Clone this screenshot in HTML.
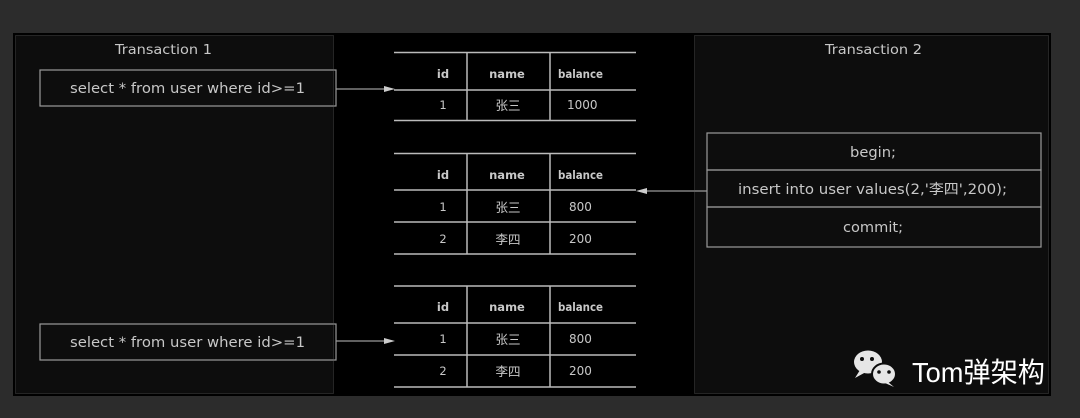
<!DOCTYPE html>
<html><head><meta charset="utf-8"><style>
html,body{margin:0;padding:0;background:#2c2c2c;}
svg{display:block;}
text{font-family:"DejaVu Sans","Noto Sans CJK SC",sans-serif;fill:#c8c8c8;}
</style></head><body>
<svg width="1080" height="418" viewBox="0 0 1080 418" xmlns="http://www.w3.org/2000/svg">
<rect width="1080" height="418" fill="#2c2c2c"/>
<rect x="13" y="33" width="1038" height="363" fill="#000"/>
<rect x="15.5" y="35.5" width="318" height="358" fill="#0d0d0d" stroke="#444" stroke-dasharray="1 1"/>
<rect x="694.5" y="35.5" width="354" height="358" fill="#0d0d0d" stroke="#444" stroke-dasharray="1 1"/>
<text x="115" y="54" font-size="13" textLength="97" lengthAdjust="spacingAndGlyphs">Transaction  1</text>
<text x="825" y="54" font-size="13" textLength="97" lengthAdjust="spacingAndGlyphs">Transaction  2</text>
<g stroke="#9a9a9a" stroke-width="1.2" fill="none">
<rect x="40" y="70" width="296" height="36"/>
<rect x="40" y="324" width="296" height="36"/>
<rect x="707" y="133" width="334" height="37"/>
<rect x="707" y="170" width="334" height="37"/>
<rect x="707" y="207" width="334" height="40"/>
<line x1="336" y1="89" x2="385" y2="89"/>
<line x1="336" y1="341" x2="385" y2="341"/>
<line x1="707" y1="191" x2="646" y2="191"/>
</g>
<g fill="#ccc">
<polygon points="395,89 384,86 384,92"/>
<polygon points="395,341 384,338 384,344"/>
<polygon points="636,191 647,188 647,194"/>
</g>
<g font-size="14">
<text x="70" y="93" textLength="235" lengthAdjust="spacingAndGlyphs">select * from user where id&gt;=1</text>
<text x="70" y="347" textLength="235" lengthAdjust="spacingAndGlyphs">select * from user where id&gt;=1</text>
<text x="850" y="157" textLength="46" lengthAdjust="spacingAndGlyphs">begin;</text>
<text x="738" y="194" textLength="269" lengthAdjust="spacingAndGlyphs">insert into user values(2,'李四',200);</text>
<text x="843" y="232" textLength="60" lengthAdjust="spacingAndGlyphs">commit;</text>
</g>
<g stroke="#bbb" stroke-width="1.5">
<line x1="394" y1="52.5" x2="636" y2="52.5"/><line x1="394" y1="90" x2="636" y2="90"/><line x1="394" y1="120.5" x2="636" y2="120.5"/>
<line x1="467" y1="52" x2="467" y2="121"/><line x1="550" y1="52" x2="550" y2="121"/>
<line x1="394" y1="153.5" x2="636" y2="153.5"/><line x1="394" y1="190" x2="636" y2="190"/><line x1="394" y1="222" x2="636" y2="222"/><line x1="394" y1="254" x2="636" y2="254"/>
<line x1="467" y1="153" x2="467" y2="254"/><line x1="550" y1="153" x2="550" y2="254"/>
<line x1="394" y1="286" x2="636" y2="286"/><line x1="394" y1="323" x2="636" y2="323"/><line x1="394" y1="355" x2="636" y2="355"/><line x1="394" y1="387" x2="636" y2="387"/>
<line x1="467" y1="286" x2="467" y2="387"/><line x1="550" y1="286" x2="550" y2="387"/>
</g>
<g font-size="11.5" style="font-family:'Liberation Sans','Noto Sans CJK SC',sans-serif;font-weight:bold">
<g text-anchor="middle">
<text x="443" y="78">id</text><text x="507" y="78">name</text>
<text x="443" y="109" font-weight="normal">1</text><text x="508" y="110" font-size="12.5" font-weight="normal">张三</text>
<text x="443" y="179">id</text><text x="507" y="179">name</text>
<text x="443" y="211" font-weight="normal">1</text><text x="508" y="212" font-size="12.5" font-weight="normal">张三</text>
<text x="443" y="243" font-weight="normal">2</text><text x="508" y="244" font-size="12.5" font-weight="normal">李四</text>
<text x="443" y="311">id</text><text x="507" y="311">name</text>
<text x="443" y="343" font-weight="normal">1</text><text x="508" y="344" font-size="12.5" font-weight="normal">张三</text>
<text x="443" y="375" font-weight="normal">2</text><text x="508" y="376" font-size="12.5" font-weight="normal">李四</text>
</g>
<text x="558" y="78" textLength="45" lengthAdjust="spacingAndGlyphs">balance</text><text x="567" y="109" font-weight="normal" font-size="12">1000</text>
<text x="558" y="179" textLength="45" lengthAdjust="spacingAndGlyphs">balance</text><text x="569" y="211" font-weight="normal" font-size="12">800</text><text x="569" y="243" font-weight="normal" font-size="12">200</text>
<text x="558" y="311" textLength="45" lengthAdjust="spacingAndGlyphs">balance</text><text x="569" y="343" font-weight="normal" font-size="12">800</text><text x="569" y="375" font-weight="normal" font-size="12">200</text>
</g>
<g fill="#e6e6e6">
<ellipse cx="868" cy="362" rx="14" ry="11.5"/>
<polygon points="860,370 855,378 866,372"/>
<ellipse cx="884" cy="374" rx="12" ry="10.5" stroke="#0d0d0d" stroke-width="2"/>
<polygon points="888,382 894,387 885,383"/>
</g>
<g fill="#0d0d0d"><circle cx="862" cy="359" r="2"/><circle cx="872" cy="359" r="2"/><circle cx="879" cy="372" r="1.8"/><circle cx="889" cy="372" r="1.8"/></g>
<text x="912" y="382" font-size="28" textLength="133" lengthAdjust="spacingAndGlyphs" style="fill:#fff;font-family:'Liberation Sans','Noto Sans CJK SC',sans-serif">Tom弹架构</text>
</svg>
</body></html>
